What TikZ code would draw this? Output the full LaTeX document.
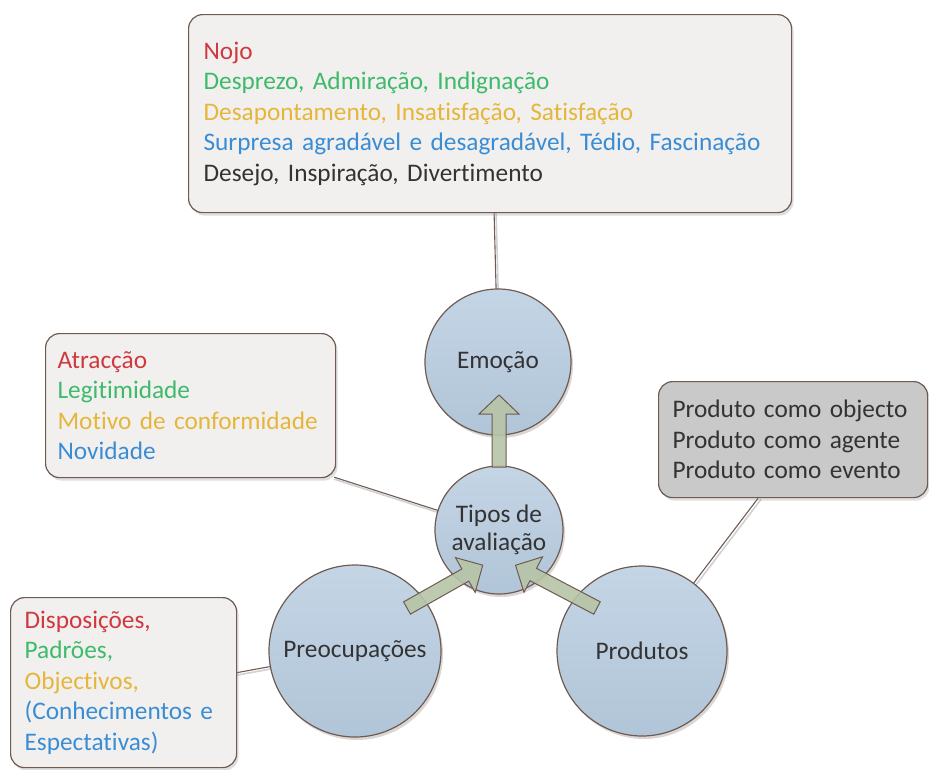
\documentclass[tikz,border=0pt]{standalone}
\usepackage{fontspec}
\setmainfont{Carlito}[RawFeature={-liga;-clig;-calt;-dlig}]
\usetikzlibrary{shadows,calc,backgrounds}
\definecolor{cred}{HTML}{D0383F}
\definecolor{cgreen}{HTML}{3DBA6A}
\definecolor{cyel}{HTML}{E6B63A}
\definecolor{cblue}{HTML}{3A8DD4}
\definecolor{cdark}{HTML}{333333}
\definecolor{cborder}{HTML}{6E5B52}
\definecolor{boxfill}{HTML}{F1F0EF}
\definecolor{greyfill}{HTML}{C9C9C9}
\definecolor{circtop}{HTML}{C4D5E5}
\definecolor{circbot}{HTML}{B1C5D8}
\definecolor{arrfill}{HTML}{B7C4A6}
\begin{document}
\begin{tikzpicture}[x=1pt,y=-1pt,
  txt/.style={font=\fontsize{25.3}{30.5}\selectfont, text=cdark},
  infobox/.style={txt, draw=cborder, line width=1.2pt, fill=boxfill, rounded corners=14pt,
    anchor=north west, align=left, inner ysep=0pt,
    drop shadow={shadow xshift=2pt, shadow yshift=-3pt, opacity=0.25}},
  bubble/.style={txt, circle, draw=cborder, line width=1.2pt, top color=circtop, bottom color=circbot,
    inner sep=0pt, align=center,
    drop shadow={shadow xshift=2pt, shadow yshift=-3pt, opacity=0.25, fill=cborder}},
  link/.style={draw=cborder, line width=1.1pt},
  linkshadow/.style={draw=black!18, line width=1.6pt},
  blockarrow/.style={draw=cborder, line width=1pt, fill=arrfill, fill opacity=0.9, line join=miter},
]
\useasboundingbox (0,0) rectangle (929,769);

% boxes
\node[infobox, minimum width=603pt, minimum height=198pt, text width=573pt, inner xsep=15pt] (topbox) at (188,14)
 {\textcolor{cred}{Nojo}\\
  \textcolor{cgreen}{Desprezo, Admiração, Indignação}\\
  \textcolor{cyel}{Desapontamento, Insatisfação, Satisfação}\\
  \textcolor{cblue}{Surpresa agradável e desagradável, Tédio, Fascinação}\\
  Desejo, Inspiração, Divertimento};

\node[infobox, minimum width=290pt, minimum height=144pt, text width=266pt, inner xsep=12pt] (leftbox) at (45,333)
 {\textcolor{cred}{Atracção}\\
  \textcolor{cgreen}{Legitimidade}\\
  \textcolor{cyel}{Motivo de conformidade}\\
  \textcolor{cblue}{Novidade}};

\node[infobox, fill=greyfill, minimum width=269pt, minimum height=116pt, text width=241pt, inner xsep=14pt] (rightbox) at (658,381)
 {Produto como objecto\\
  Produto como agente\\
  Produto como evento};

\node[infobox, minimum width=222pt, minimum height=170pt, text width=198pt, inner xsep=14pt] (botbox) at (10,597)
 {\textcolor{cred}{Disposições,}\\
  \textcolor{cgreen}{Padrões,}\\
  \textcolor{cyel}{Objectivos,}\\
  \textcolor{cblue}{(Conhecimentos e}\\
  \textcolor{cblue}{Espectativas)}};

% circles
\node[bubble, minimum size=146pt] (emocao) at (498,362) {Emoção};
\node[bubble, minimum size=128pt] (tipos) at (499,530) {Tipos de\\[-2pt]avaliação};
\node[bubble, minimum size=172pt] (preoc) at (355,651) {Preocupações};
\node[bubble, minimum size=170pt] (produtos) at (642,651) {Produtos};

% connectors behind
\begin{scope}[on background layer]
  \coordinate (tb) at ($(topbox.south)+(4,0)$);
  \coordinate (lb) at ($(leftbox.south east)+(-2,-1)$);
  \coordinate (rb) at ($(rightbox.south)+(-35,0)$);
  \coordinate (bb) at ($(botbox.east)+(0,-10)$);
  \path[linkshadow] ($(tb)+(2,0)$) -- ($(emocao.center)+(2,0)$);
  \path[linkshadow] ($(lb)+(0,2)$) -- ($(tipos.center)+(0,2)$);
  \path[linkshadow] ($(rb)+(3,1)$) -- ($(produtos.center)+(3,1)$);
  \path[linkshadow] ($(bb)+(0,2.5)$) -- ($(preoc.center)+(0,2.5)$);
  \path[link] (tb) -- (emocao.center);
  \path[link] (lb) -- (tipos.center);
  \path[link] (rb) -- (produtos.center);
  \path[link] (bb) -- (preoc.center);
\end{scope}

% block arrows
\coordinate (a1) at ($(tipos.center)+(0,-63)$);
\coordinate (a2) at (407,608);
\coordinate (a3) at (597,608);
\draw[blockarrow, shift={(a1)}, rotate=90]
  (0,-7) -- (53,-7) -- (53,-20) -- (72,0) -- (53,20) -- (53,7) -- (0,7) -- cycle;
\draw[blockarrow, shift={(a2)}, rotate=29.5]
  (0,-7) -- (67,-7) -- (67,-20) -- (87,0) -- (67,20) -- (67,7) -- (0,7) -- cycle;
\draw[blockarrow, shift={(a3)}, rotate=152.3]
  (0,-7) -- (72,-7) -- (72,-20) -- (92,0) -- (72,20) -- (72,7) -- (0,7) -- cycle;
\end{tikzpicture}
\end{document}
